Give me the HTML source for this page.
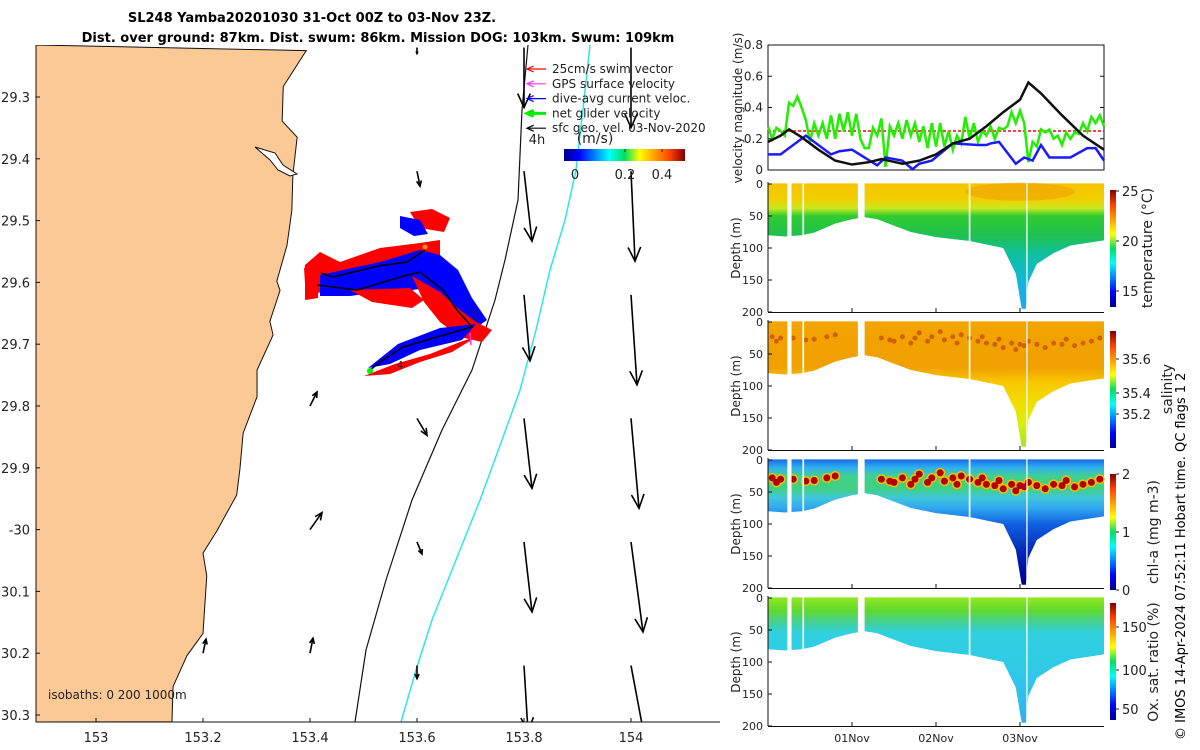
<!DOCTYPE html>
<html><head><meta charset="utf-8"><style>
html,body{margin:0;padding:0;background:#fff}
svg{display:block;font-family:"DejaVu Sans","Liberation Sans",sans-serif}
</style></head><body>
<svg id="s" width="1200" height="750" xmlns="http://www.w3.org/2000/svg">
<defs>
<linearGradient id="jet" x1="0" y1="1" x2="0" y2="0">
<stop offset="0" stop-color="#00008f"/><stop offset="0.125" stop-color="#0000ff"/><stop offset="0.375" stop-color="#00ffff"/><stop offset="0.5" stop-color="#00e060"/><stop offset="0.625" stop-color="#ffff00"/><stop offset="0.875" stop-color="#ff4000"/><stop offset="1" stop-color="#800000"/></linearGradient>
<linearGradient id="jeth" x1="0" y1="0" x2="1" y2="0">
<stop offset="0" stop-color="#00008f"/><stop offset="0.125" stop-color="#0000ff"/><stop offset="0.375" stop-color="#00ffff"/><stop offset="0.5" stop-color="#00e060"/><stop offset="0.625" stop-color="#ffff00"/><stop offset="0.875" stop-color="#ff4000"/><stop offset="1" stop-color="#800000"/></linearGradient>
<clipPath id="mapclip"><rect x="36" y="45" width="684" height="677"/></clipPath>
</defs>
<text x="312" y="22" font-size="13" font-weight="bold" text-anchor="middle">SL248 Yamba20201030 31-Oct 00Z to 03-Nov 23Z.</text>
<text x="378" y="42" font-size="13" font-weight="bold" text-anchor="middle">Dist. over ground: 87km. Dist. swum: 86km. Mission DOG: 103km. Swum: 109km</text>
<g id="map"></g>
<g id="vel"></g>
<g id="sec"></g>
<text transform="translate(1185,740) rotate(-90)" font-size="13">© IMOS 14-Apr-2024 07:52:11 Hobart time. QC flags 1  2</text>
</svg>
<script>
// ---------- velocity data (days since 31-Oct 00Z) ----------
const blackDays=[0,0.15,0.25,0.4,0.6,0.8,1.0,1.2,1.35,1.6,1.8,2.0,2.2,2.4,2.6,2.8,3.0,3.1,3.25,3.5,3.75,4.0];
const blackVals=[0.18,0.22,0.26,0.21,0.13,0.06,0.035,0.05,0.07,0.04,0.06,0.1,0.17,0.2,0.28,0.37,0.45,0.56,0.49,0.35,0.22,0.13];
const blueDays=[0,0.15,0.45,0.75,0.85,1.0,1.3,1.4,1.6,1.72,1.8,1.95,2.2,2.5,2.6,2.65,2.75,2.95,3.05,3.15,3.25,3.35,3.6,3.8,3.9,4.0];
const blueVals=[0.1,0.1,0.22,0.1,0.12,0.13,0.03,0.08,0.06,0.005,0.04,0.06,0.17,0.16,0.16,0.17,0.18,0.04,0.08,0.06,0.16,0.08,0.08,0.14,0.14,0.06];
const greenVals=[0.28,0.2,0.27,0.25,0.22,0.43,0.41,0.47,0.4,0.32,0.18,0.3,0.22,0.3,0.2,0.35,0.2,0.36,0.25,0.37,0.22,0.36,0.2,0.14,0.14,0.27,0.22,0.33,0.02,0.28,0.22,0.3,0.2,0.32,0.22,0.3,0.18,0.28,0.14,0.3,0.15,0.3,0.15,0.25,0.13,0.22,0.17,0.34,0.2,0.3,0.18,0.25,0.22,0.28,0.2,0.27,0.26,0.28,0.37,0.3,0.38,0.3,0.05,0.18,0.15,0.26,0.24,0.26,0.2,0.22,0.16,0.24,0.2,0.24,0.23,0.3,0.25,0.34,0.3,0.35,0.28];
const swimSpeed=0.25;
const velTicks=[0,0.2,0.4,0.6,0.8];
// ---------- section data ----------
const bottomDays=[0,0.2,0.4,0.55,0.8,1.0,1.15,1.3,1.5,1.7,2.0,2.4,2.8,2.95,3.02,3.07,3.1,3.2,3.4,3.6,4.0];
const bottomDepth=[80,82,80,76,62,55,52,55,65,75,83,89,100,140,195,195,153,125,108,96,88];
const gapStart=[0.23,0.41,1.07,2.39,3.075];
const gapEnd=[0.28,0.43,1.15,2.41,3.09];
const chlDotDays=[0.05,0.1,0.15,0.3,0.45,0.55,0.7,0.8,1.35,1.45,1.5,1.6,1.7,1.75,1.8,1.9,1.95,2.05,2.1,2.2,2.25,2.3,2.4,2.5,2.55,2.6,2.7,2.75,2.8,2.9,2.95,3.0,3.05,3.1,3.2,3.3,3.4,3.5,3.55,3.65,3.75,3.85,3.95];
const chlDotDepth=[28,35,30,30,33,32,28,25,30,33,35,28,38,30,22,35,28,20,33,28,38,25,30,35,28,38,40,32,45,38,48,40,42,35,40,45,38,40,32,42,38,35,30];
const depthTicks=[0,50,100,150,200];
const dateTicks=[1,2,3];const dateLabels=["01Nov","02Nov","03Nov"];
// ---------- map data ----------
const latTicks=[29.3,29.4,29.5,29.6,29.7,29.8,29.9,30,30.1,30.2,30.3];
const latLabels=["29.3","29.4","29.5","29.6","29.7","29.8","29.9","-30","30.1","30.2","30.3"];
const lonTicks=[153,153.2,153.4,153.6,153.8,154];
const arrowLon=[153.8,153.8,153.8,153.8,153.8,153.8,154,154,154,154,154,154,153.6,153.6,153.6,153.6,153.6,153.4,153.4,153.4,153.2];
const arrowLat=[29.22,29.42,29.62,29.82,30.02,30.22,29.22,29.42,29.62,29.82,30.02,30.22,29.22,29.42,29.82,30.02,30.22,29.8,30.0,30.2,30.2];
const arrowU=[0.0,0.04,0.03,0.04,0.04,0.02,0.0,0.02,0.03,0.04,0.06,0.09,0,0.015,0.05,0.025,0,0.035,0.06,0.015,0.015];
const arrowV=[-0.3,-0.35,-0.33,-0.35,-0.35,-0.33,-0.4,-0.45,-0.45,-0.45,-0.45,-0.48,-0.03,-0.075,-0.085,-0.06,-0.065,0.07,0.085,0.075,0.07];
const coastLon=[153.393,153.35,153.348,153.376,153.368,153.366,153.357,153.338,153.344,153.325,153.331,153.301,153.301,153.275,153.269,153.263,153.226,153.2,153.207,153.2,153.17,153.144,153.142];
const coastLat=[29.225,29.283,29.339,29.365,29.426,29.484,29.54,29.598,29.613,29.663,29.685,29.742,29.785,29.844,29.902,29.944,30.002,30.038,30.075,30.168,30.204,30.254,30.311];

const S=document.getElementById('s'),NS='http://www.w3.org/2000/svg';
function mk(parent,tag,attrs){const e=document.createElementNS(NS,tag);for(const k in attrs)e.setAttribute(k,attrs[k]);parent.appendChild(e);return e;}
function tx(parent,x,y,str,size,anchor){const t=mk(parent,'text',{x:x,y:y,'font-size':size,'text-anchor':anchor||'middle',fill:'#222'});t.textContent=str;return t;}

// ===== MAP =====
const M=document.getElementById('map');
const lonX=l=>96+(l-153)*535, latY=a=>97+(a-29.3)*618;
const mg=mk(M,'g',{'clip-path':'url(#mapclip)'});
let cp='M36,45 ';coastLon.forEach((l,i)=>cp+='L'+lonX(l)+','+latY(coastLat[i])+' ');cp+='L36,722 Z';
const land=mk(mg,'path',{d:cp,fill:'#fac995',stroke:'#111','stroke-width':1});


const est=mk(mg,'path',{d:'M255,147 L275,153 L283,165 L297,174 L290,176 L278,170 L270,160 Z',fill:'#fff',stroke:'#111','stroke-width':1});


const iso1=mk(mg,'path',{d:'M528,45 L522,110 L518,200 L505,260 L495,300 L472,370 L442,430 L412,500 L386,580 L366,650 L355,722',fill:'none',stroke:'#111','stroke-width':1.2});


const iso2=mk(mg,'path',{d:'M590,45 L584,100 L576,170 L565,220 L550,270 L536,330 L520,390 L502,440 L480,500 L456,560 L432,620 L416,670 L401,722',fill:'none',stroke:'#2ee6e6','stroke-width':1.5});


// glider track
const trk=mk(mg,'g',{});


const polys=[
 ['#ff0000','305,265 320,252 340,262 380,248 420,243 440,240 440,256 410,270 380,278 350,282 330,287 305,300'],
 ['#0000ff','320,275 380,262 420,250 440,255 458,270 472,298 487,320 470,332 452,305 425,288 400,292 380,292 350,296 320,296'],
 ['#ff0000','350,290 410,288 424,300 412,308 372,302'],
 ['#ff0000','412,276 440,292 460,310 476,322 492,330 482,342 460,337 440,322 424,302'],
 ['#0000ff','368,368 398,344 440,328 476,324 462,340 420,350 390,364'],
 ['#ff0000','364,376 395,364 430,354 460,342 478,336 452,352 420,362 390,374'],
 ['#ff0000','410,212 432,209 450,218 444,232 420,228'],
 ['#0000ff','400,216 420,220 428,234 414,236 400,228'],
 ['#ff0000','304,268 318,262 318,298 306,300']];
polys.forEach(p=>mk(trk,'polygon',{points:p[1],fill:p[0]}));
mk(trk,'polyline',{points:'321,273 333,277 378,266 407,262 425,250',fill:'none',stroke:'#000','stroke-width':1.5});
mk(trk,'polyline',{points:'317,285 357,290 407,275 420,272 443,290 457,310 472,327 437,337 403,347 383,360 370,370',fill:'none',stroke:'#000','stroke-width':1.5});
mk(trk,'circle',{cx:425,cy:247,r:2.5,fill:'#ff9900'});
mk(trk,'circle',{cx:370,cy:371,r:3,fill:'#00ee00'});
mk(trk,'line',{x1:470,y1:333,x2:471,y2:345,stroke:'#ff33ff','stroke-width':1.5});
tx(trk,474,319,'3',11);tx(trk,400,369,'4',11);
// arrows
function arrow(g,x1,y1,x2,y2,w,col){const L=Math.hypot(x2-x1,y2-y1);if(L<1)return;const ux=(x2-x1)/L,uy=(y2-y1)/L,h=Math.min(14,L*0.35),hw=h*0.45;
 mk(g,'line',{x1:x1,y1:y1,x2:x2,y2:y2,stroke:col,'stroke-width':w});
 mk(g,'polyline',{points:(x2-ux*h-uy*hw)+','+(y2-uy*h+ux*hw)+' '+x2+','+y2+' '+(x2-ux*h+uy*hw)+','+(y2-uy*h-ux*hw),fill:'none',stroke:col,'stroke-width':w});}
const ag=mk(mg,'g',{});


arrowLon.forEach((l,i)=>{const x=lonX(l),y=latY(arrowLat[i]);arrow(ag,x,y,x+arrowU[i]*200,y-arrowV[i]*200,1.6,'#000');});
tx(mg,48,699,'isobaths: 0   200  1000m',12,'start');
// axes
const mfr=mk(M,'path',{d:'M36,45 L36,722 L720,722',fill:'none',stroke:'#111','stroke-width':1});


latTicks.forEach((v,i)=>{const y=latY(v);mk(M,'line',{x1:36,y1:y,x2:40,y2:y,stroke:'#111'});tx(M,30,y+5,latLabels[i],13,'end');});
lonTicks.forEach(v=>{const x=lonX(v);mk(M,'line',{x1:x,y1:722,x2:x,y2:718,stroke:'#111'});tx(M,x,742,String(v),13);});
// legend
const lg=mk(M,'g',{});


const legT=['25cm/s swim vector','GPS surface velocity','dive-avg current veloc.','net glider velocity','sfc geo. vel. 03-Nov-2020'];
const legC=['#ff0000','#ff33ff','#0000ff','#00ee00','#000'];
legT.forEach((t,i)=>{const y=69+i*14.8;arrow(lg,546,y,527,y,i==3?3:1.2,legC[i]);tx(lg,552,y+4,t,12,'start');});
tx(lg,537,144,'4h',13);tx(lg,595,143,'(m/s)',14);
mk(lg,'rect',{x:564,y:149,width:121,height:12,fill:'url(#jeth)'});
[[575,'0'],[625,'0.2'],[662,'0.4']].forEach(a=>{mk(lg,'line',{x1:a[0],y1:149,x2:a[0],y2:152,stroke:'#222'});tx(lg,a[0],179,a[1],13);});

// ===== VELOCITY =====
const V=document.getElementById('vel');
const dX=d=>768+d*84, vY=v=>170-v*156.25;
mk(V,'rect',{x:768,y:45,width:336,height:125,fill:'none',stroke:'#111'});
velTicks.forEach(v=>{mk(V,'line',{x1:768,y1:vY(v),x2:772,y2:vY(v),stroke:'#111'});mk(V,'line',{x1:1104,y1:vY(v),x2:1100,y2:vY(v),stroke:'#111'});tx(V,763,vY(v)+4,String(v),12,'end');});
const vl=mk(V,'text',{transform:'translate(742,108) rotate(-90)','font-size':12,'text-anchor':'middle',fill:'#222'});vl.textContent='velocity magnitude (m/s)';
const swimLine=mk(V,'line',{x1:dX(0),y1:vY(swimSpeed),x2:dX(4),y2:vY(swimSpeed),stroke:'#ff0000','stroke-width':1.5,'stroke-dasharray':'3,2'});


const gp=mk(V,'polyline',{points:greenVals.map((v,i)=>dX(i*4/(greenVals.length-1))+','+vY(v)).join(' '),fill:'none',stroke:'#22ee00','stroke-width':2.5});


const bp=mk(V,'polyline',{points:blueDays.map((d,i)=>dX(d)+','+vY(blueVals[i])).join(' '),fill:'none',stroke:'#1a1aff','stroke-width':2.5});


const kp=mk(V,'polyline',{points:blackDays.map((d,i)=>dX(d)+','+vY(blackVals[i])).join(' '),fill:'none',stroke:'#111','stroke-width':2.5});



// ===== SECTIONS =====
const SC=document.getElementById('sec');
const tops=[184,322,460,598];
const names=['temperature','salinity','chlorophyll','oxygen'];
const grads=[
 [[0,'#f7c400'],[25,'#f0d000'],[38,'#c8e820'],[50,'#30cc30'],[80,'#20c050'],[110,'#10c0a0'],[150,'#10b8d8'],[195,'#20a8f0']],
 [[0,'#f2a400'],[70,'#f0a000'],[95,'#f8c800'],[130,'#f0e000'],[160,'#d8ee10'],[195,'#a0e820']],
 [[0,'#1a70e8'],[12,'#30b0f0'],[25,'#40d090'],[45,'#40d080'],[58,'#40c8d8'],[75,'#30a8f0'],[100,'#1060e0'],[150,'#0020b0'],[195,'#000090']],
 [[0,'#90e820'],[20,'#60d830'],[40,'#40d0a0'],[55,'#30d0e0'],[120,'#30c8e8'],[195,'#30b0f0']]];
const cbT=[[[191,'25'],[241,'20'],[291,'15']],[[359,'35.6'],[393,'35.4'],[414,'35.2']],[[474,'2'],[532,'1'],[590,'0']],[[627,'150'],[670,'100'],[709,'50']]];
const cbY=[[190,307],[331,448],[474,590],[603,720]];
const cbL=[['temperature (°C)',1152,248],['salinity',1172,389],['chl-a (mg m-3)',1158,532],['Ox. sat. ratio (%)',1158,662]];
tops.forEach((top,p)=>{
 const g=mk(SC,'g',{});
 
 
 const dY=d=>top+d*0.64;
 const gid='g'+p;const lgd=mk(mk(g,'defs',{}),'linearGradient',{id:gid,x1:0,y1:dY(0),x2:0,y2:dY(200),gradientUnits:'userSpaceOnUse'});
 grads[p].forEach(s=>mk(lgd,'stop',{offset:s[0]/200,'stop-color':s[1]}));
 let d='M'+dX(0)+','+dY(-1);d+=' L'+dX(4)+','+dY(-1);
 for(let i=bottomDays.length-1;i>=0;i--)d+=' L'+dX(bottomDays[i])+','+dY(bottomDepth[i]);
 mk(g,'path',{d:d+' Z',fill:'url(#'+gid+')'});
 if(p==0){mk(g,'ellipse',{cx:dX(3.0),cy:dY(12),rx:55,ry:9,fill:'#f0a000',opacity:0.6});}
 if(p==2){chlDotDays.forEach((dd,i)=>{mk(g,'circle',{cx:dX(dd),cy:dY(chlDotDepth[i]),r:5,fill:'#f4c000'});});
  chlDotDays.forEach((dd,i)=>{mk(g,'circle',{cx:dX(dd),cy:dY(chlDotDepth[i]),r:3.5,fill:'#b00000'});});}
 if(p==1){chlDotDays.forEach((dd,i)=>{mk(g,'circle',{cx:dX(dd),cy:dY(chlDotDepth[i]-5),r:2.5,fill:'#d06000'});});}
 gapStart.forEach((s,i)=>mk(g,'rect',{x:dX(s),y:dY(-2),width:Math.max(1,dX(gapEnd[i])-dX(s)),height:dY(200)-dY(-2),fill:'#fff'}));
 mk(g,'path',{d:'M768,'+(dY(200)+0.5)+' L1104,'+(dY(200)+0.5),stroke:'#111'});
 mk(g,'line',{x1:768,y1:top-2,x2:768,y2:dY(200),stroke:'#111'});
 depthTicks.forEach(v=>{mk(g,'line',{x1:768,y1:dY(v),x2:772,y2:dY(v),stroke:'#111'});tx(g,763,dY(v)+4,String(v),11,'end');});
 dateTicks.forEach(v=>mk(g,'line',{x1:dX(v),y1:dY(200),x2:dX(v),y2:dY(200)-4,stroke:'#111'}));
 const yl=mk(g,'text',{transform:'translate(740,'+dY(100)+') rotate(-90)','font-size':12,'text-anchor':'middle',fill:'#222'});yl.textContent='Depth (m)';
 const cb=mk(g,'rect',{x:1110,y:cbY[p][0],width:6,height:cbY[p][1]-cbY[p][0],fill:'url(#jet)'});
 
 
 cbT[p].forEach(t=>{mk(g,'line',{x1:1116,y1:t[0],x2:1119,y2:t[0],stroke:'#222'});tx(g,1122,t[0]+5,t[1],13,'start');});
 const cl=mk(g,'text',{transform:'translate('+cbL[p][1]+','+cbL[p][2]+') rotate(-90)','font-size':14,'text-anchor':'middle',fill:'#222'});cl.textContent=cbL[p][0];
});
dateTicks.forEach((v,i)=>tx(SC,dX(v),742,dateLabels[i],11));
</script>
</body></html>
